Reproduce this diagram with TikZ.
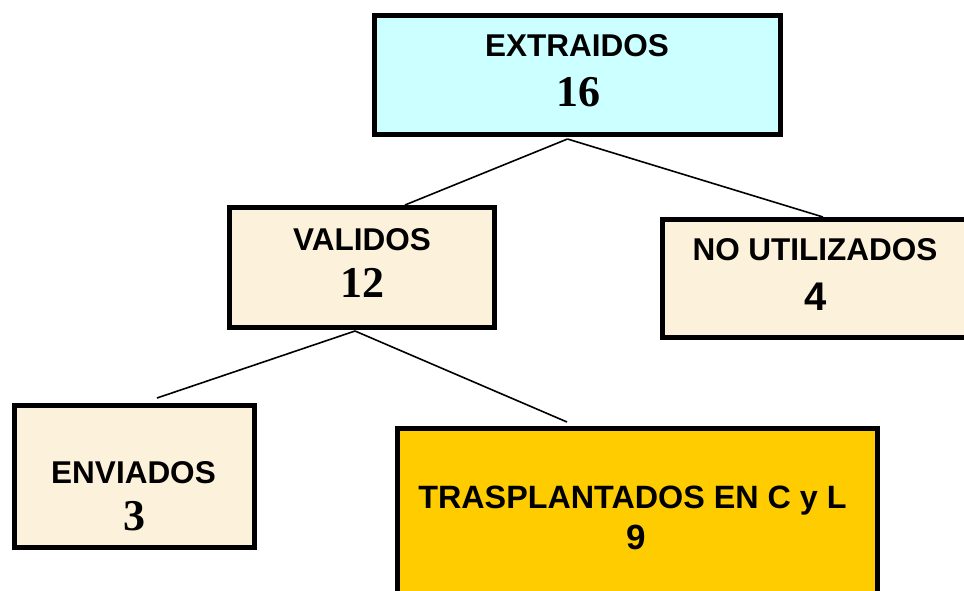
\documentclass[tikz,border=0pt]{standalone}
\usepackage{fontspec}
\setmainfont{Liberation Serif}
\setsansfont{Liberation Sans}
\definecolor{cyanbox}{HTML}{CCFFFF}
\definecolor{beigebox}{HTML}{FCF1DA}
\definecolor{goldbox}{HTML}{FFCC00}
\tikzset{
  boxnode/.style={draw=black, line width=5pt, inner sep=0pt, rectangle},
  wordlbl/.style={inner sep=0pt, anchor=base, font=\sffamily\bfseries\fontsize{31.5}{36}\selectfont},
  numlbl/.style={inner sep=0pt, anchor=base, font=\rmfamily\bfseries\fontsize{44}{50}\selectfont},
  snumlbl/.style={inner sep=0pt, anchor=base, font=\sffamily\bfseries\fontsize{#1}{40}\selectfont},
  link/.style={draw=black, line width=1.6pt}
}
\begin{document}
\begin{tikzpicture}[x=1pt,y=-1pt]
\useasboundingbox (0,0) rectangle (964,591);
\clip (0,0) rectangle (964,591);
\fill[white] (0,0) rectangle (964,591);
% boxes
\node[boxnode, fill=cyanbox, minimum width=406pt, minimum height=119pt] (e) at (577.5,75) {};
\node[boxnode, fill=beigebox, minimum width=265pt, minimum height=120pt] (v) at (362,267.5) {};
\node[boxnode, fill=beigebox, minimum width=305pt, minimum height=118pt] (n) at (815,278.5) {};
\node[boxnode, fill=beigebox, minimum width=240pt, minimum height=142pt] (en) at (134.5,476.5) {};
\node[boxnode, fill=goldbox, minimum width=480pt, minimum height=220pt] (t) at (637.5,538.5) {};
% labels
\node[wordlbl] (e1) at (577,57) {EXTRAIDOS};
\node[numlbl] (e2) at (578,107) {16};
\node[wordlbl] (v1) at (362,250) {VALIDOS};
\node[numlbl] (v2) at (362,297) {12};
\node[wordlbl] (n1) at (815,260) {NO UTILIZADOS};
\node[snumlbl=40] (n2) at (816,310) {4};
\node[wordlbl, font=\sffamily\bfseries\fontsize{32.3}{36}\selectfont] (t1) at (632.5,508) {TRASPLANTADOS EN C y L};
\node[wordlbl] (en1) at (133.5,483) {ENVIADOS};
\node[numlbl] (en2) at (134,530) {3};
\node[snumlbl=35] (t2) at (636,549) {9};
% connectors
\draw[link] ([xshift=-10pt,yshift=-2pt]e.south) -- ([xshift=43pt]v.north);
\draw[link] ([xshift=-10pt,yshift=-2pt]e.south) -- ([xshift=8pt]n.north);
\draw[link] ([xshift=-7pt,yshift=-1pt]v.south) -- ([xshift=22.5pt,yshift=5pt]en.north);
\draw[link] ([xshift=-7pt,yshift=-1pt]v.south) -- ([xshift=-70.5pt,yshift=4pt]t.north);
\end{tikzpicture}
\end{document}
